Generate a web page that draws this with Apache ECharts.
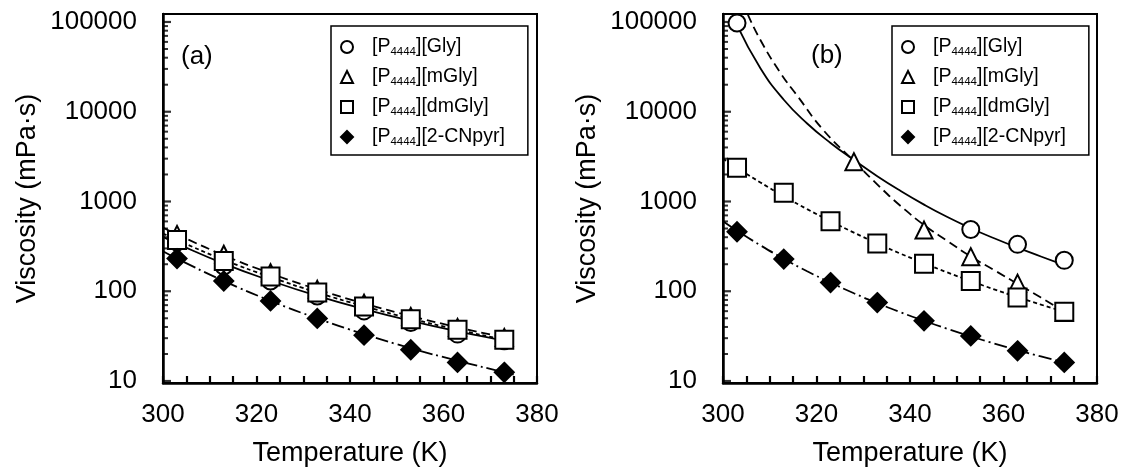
<!DOCTYPE html>
<html><head><meta charset="utf-8">
<script src="https://cdn.jsdelivr.net/npm/echarts@6/dist/echarts.min.js"></script>
<style>html,body{margin:0;padding:0;background:#fff}#c{width:1123px;height:472px}</style>
</head><body><div id="c"></div>
<script>
// ---------- data ----------
const seriesNames = ['[P4444][Gly]', '[P4444][mGly]', '[P4444][dmGly]', '[P4444][2-CNpyr]'];
const yMajorTicks = [10, 100, 1000, 10000, 100000];
const yMinorTicks = [20,30,40,50,60,70,80,90,200,300,400,500,600,700,800,900,2000,3000,4000,5000,6000,7000,8000,9000,20000,30000,40000,50000,60000,70000,80000,90000];

// panel (a) measured points
const tempA   = [303, 313, 323, 333, 343, 353, 363, 373];
const glyA    = [353, 191, 130, 88.7, 60.4, 44.9, 33.3, 28];
const mglyA   = [430, 258, 161, 105, 73.6, 52.4, 39.5, 30.6];
const dmglyA  = [372, 217, 146, 96.8, 67.6, 48.9, 37.2, 28.8];
const cnpyrA  = [231, 130, 78, 49.8, 32.4, 22.3, 16.1, 12.5];
// panel (a) fitted curves
const fitTempA   = [300, 303, 313, 323, 333, 343, 353, 363, 373, 375];
const fitGlyA    = [402, 339, 203, 131, 88.7, 63.2, 46.8, 35.8, 28.2, 26.9];
const fitMglyA   = [513, 430, 252, 158, 105, 73.1, 53, 39.7, 30.6, 29.2];
const fitDmglyA  = [440, 372, 224, 144, 96.8, 68.1, 49.6, 37.3, 28.8, 27.4];
const fitCnpyrA  = [279, 231, 130, 78.2, 49.8, 33.3, 23.2, 16.8, 12.5, 11.8];

// panel (b) measured points
const tempGlyB  = [303, 353, 363, 373];
const glyB      = [97500, 488, 333, 221];
const tempMglyB = [328, 343, 353, 363, 373];
const mglyB     = [2780, 480, 243, 123, 58];
const tempB     = [303, 313, 323, 333, 343, 353, 363, 373];
const dmglyB    = [2370, 1250, 604, 341, 203, 130, 85, 59];
const cnpyrB    = [460, 228, 125, 74.8, 46.8, 31.8, 21.7, 16.1];
// panel (b) fitted curves
const fitTempGlyB   = [303, 308, 313, 318, 323, 328, 333, 338, 343, 348, 353, 358, 363, 368, 373];
const fitGlyB       = [92000, 30500, 13600, 7400, 4490, 2900, 1915, 1310, 923, 671, 504, 389, 306, 244, 195];
const fitTempMglyB  = [305.3, 308, 312.2, 316, 321.4, 328, 333.6, 338, 343.2, 348, 353.2, 358, 363.1, 368, 373.2];
const fitMglyB      = [121600, 63000, 27500, 14800, 6300, 2820, 1445, 891, 537, 363, 240, 172, 120, 85, 58.5];
const fitTempB      = [300, 303, 308, 313, 318, 323, 328, 333, 338, 343, 348, 353, 358, 363, 368, 373];
const fitDmglyB     = [3000, 2370, 1630, 1145, 822, 603, 450, 341, 262, 205, 162, 130, 105, 86, 71, 59];
const fitCnB        = [603, 473, 325, 230, 167, 125, 95, 73.8, 58.3, 46.8, 38.1, 31.4, 26.2, 22.1, 18.8, 16.1];

// ---------- chart ----------
const FONT = 'Liberation Sans, Arial, sans-serif';
const Y_MIN = 9.5, Y_MAX = 122700;
const zip = (xs, ys) => xs.map((x, i) => [x, ys[i]]);
const symbols = ['circle', 'triangle', 'rect', 'diamond'];
const symSizes = [17, 17, 18, 19];
const dashes = ['solid', [9, 5], [4, 3], [13, 4, 2, 4]];

function xAxis(gi) {
  return {
    type: 'value', gridIndex: gi, min: 300, max: 380, interval: 20,
    name: 'Temperature (K)', nameLocation: 'middle', nameGap: 57,
    nameTextStyle: { fontFamily: FONT, fontSize: 27, color: '#000' },
    axisLine: { show: true, onZero: false, lineStyle: { color: '#000', width: 2.5 } },
    axisTick: { show: true, inside: true, length: 7, lineStyle: { color: '#000', width: 2.2 } },
    minorTick: { show: true, splitNumber: 4, length: 7, lineStyle: { color: '#000', width: 2.2 } },
    axisLabel: { fontFamily: FONT, fontSize: 26, color: '#000', margin: 19, formatter: v => String(v) },
    splitLine: { show: false }, minorSplitLine: { show: false }
  };
}
function yAxis(gi) {
  return {
    type: 'log', logBase: 10, gridIndex: gi, min: Y_MIN, max: Y_MAX,
    name: 'Viscosity (mPa\u00B7s)', nameLocation: 'middle', nameGap: 122,
    nameTextStyle: { fontFamily: FONT, fontSize: 27, color: '#000' },
    axisLine: { show: true, onZero: false, lineStyle: { color: '#000', width: 2.5 } },
    axisTick: { show: false },
    axisLabel: { customValues: yMajorTicks, fontFamily: FONT, fontSize: 26, color: '#000', margin: 26, formatter: v => String(Math.round(v)) },
    splitLine: { show: false }, minorTick: { show: false }
  };
}
// tick marks on the log axis, positioned through the axis scale
function tickSeries(vals, len, w, gi) {
  return {
    type: 'scatter', name: 'ytick', xAxisIndex: gi, yAxisIndex: gi,
    data: vals.map(v => [300, v]), symbol: 'rect', symbolSize: [len, w],
    symbolOffset: [len / 2, 0], itemStyle: { color: '#000' }, z: 4, silent: true, clip: false,
    emphasis: { disabled: true }
  };
}
function markerSeries(name, i, xs, ys, gi) {
  return {
    type: 'scatter', name, xAxisIndex: gi, yAxisIndex: gi, data: zip(xs, ys),
    symbol: symbols[i], symbolSize: symSizes[i], z: 5,
    itemStyle: { color: i === 3 ? '#000' : '#fff', borderColor: '#000', borderWidth: 2, opacity: 1 },
    emphasis: { disabled: true }, silent: true
  };
}
function fitSeries(i, xs, ys, gi) {
  return {
    type: 'line', name: 'fit' + gi + '_' + i, xAxisIndex: gi, yAxisIndex: gi, data: zip(xs, ys),
    showSymbol: false, symbol: 'none', smooth: 0.5, clip: true, z: 3,
    lineStyle: { color: '#000', width: 1.8, type: dashes[i] },
    emphasis: { disabled: true }, silent: true
  };
}
function legend(left) {
  return {
    left, top: 26, orient: 'vertical', itemGap: 8, itemWidth: 12, itemHeight: 12,
    padding: [10, 23, 7, 9], borderColor: '#000', borderWidth: 1.5, borderRadius: 0,
    backgroundColor: '#fff', selectedMode: false, data: seriesNames,
    formatter: n => n.replace('4444', '{s|4444}'),
    textStyle: {
      fontFamily: FONT, fontSize: 19.5, lineHeight: 22, color: '#000', padding: [0, 0, 0, 14],
      rich: { s: { fontFamily: FONT, fontSize: 11.5, lineHeight: 10, verticalAlign: 'bottom', color: '#000' } }
    }
  };
}

const option = {
  animation: false,
  backgroundColor: '#fff',
  title: [
    { text: '(a)', left: 181, top: 44, padding: 0, textStyle: { fontFamily: FONT, fontSize: 26, fontWeight: 'normal', color: '#000' } },
    { text: '(b)', left: 811, top: 43, padding: 0, textStyle: { fontFamily: FONT, fontSize: 26, fontWeight: 'normal', color: '#000' } }
  ],
  grid: [
    { left: 163, top: 14, width: 374, height: 370, show: true, borderColor: '#000', borderWidth: 2, containLabel: false },
    { left: 723, top: 14, width: 374, height: 370, show: true, borderColor: '#000', borderWidth: 2, containLabel: false }
  ],
  xAxis: [xAxis(0), xAxis(1)],
  yAxis: [yAxis(0), yAxis(1)],
  legend: [legend(331), legend(892)],
  series: [
    tickSeries(yMajorTicks, 8, 2.2, 0), tickSeries(yMinorTicks, 5, 2, 0),
    tickSeries(yMajorTicks, 8, 2.2, 1), tickSeries(yMinorTicks, 5, 2, 1),
    fitSeries(0, fitTempA, fitGlyA, 0),
    fitSeries(1, fitTempA, fitMglyA, 0),
    fitSeries(2, fitTempA, fitDmglyA, 0),
    fitSeries(3, fitTempA, fitCnpyrA, 0),
    markerSeries(seriesNames[0], 0, tempA, glyA, 0),
    markerSeries(seriesNames[1], 1, tempA, mglyA, 0),
    markerSeries(seriesNames[2], 2, tempA, dmglyA, 0),
    markerSeries(seriesNames[3], 3, tempA, cnpyrA, 0),
    fitSeries(0, fitTempGlyB, fitGlyB, 1),
    fitSeries(1, fitTempMglyB, fitMglyB, 1),
    fitSeries(2, fitTempB, fitDmglyB, 1),
    fitSeries(3, fitTempB, fitCnB, 1),
    markerSeries(seriesNames[0], 0, tempGlyB, glyB, 1),
    markerSeries(seriesNames[1], 1, tempMglyB, mglyB, 1),
    markerSeries(seriesNames[2], 2, tempB, dmglyB, 1),
    markerSeries(seriesNames[3], 3, tempB, cnpyrB, 1)
  ]
};
const chart = echarts.init(document.getElementById('c'), null, { renderer: 'canvas' });
chart.setOption(option);
</script>
</body></html>
